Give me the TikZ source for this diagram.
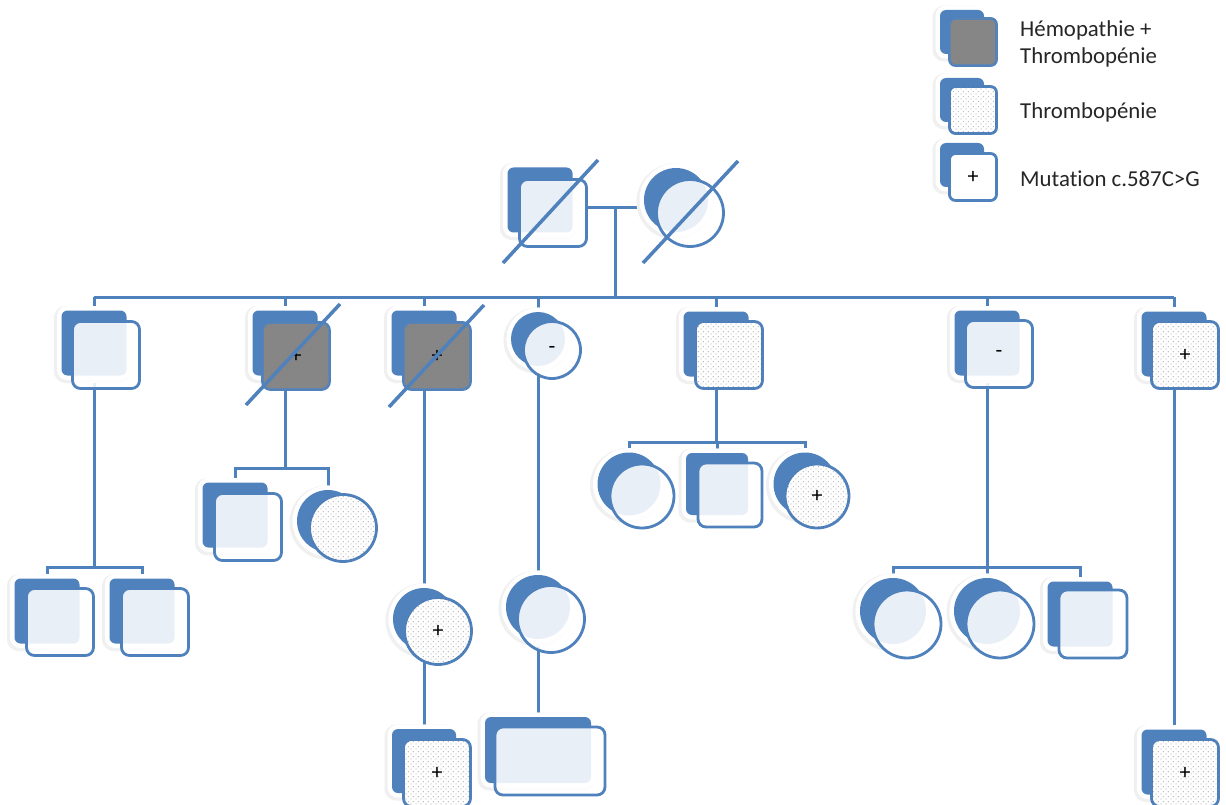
\documentclass[tikz,border=0pt]{standalone}
\usepackage{fontspec}
\setmainfont{Carlito}[Ligatures=NoCommon]
\usetikzlibrary{patterns,patterns.meta}
\definecolor{pblue}{HTML}{4F81BD}
\definecolor{hemo}{HTML}{858585}
\tikzdeclarepattern{name=finedots,type=uncolored,bounding box={(0pt,0pt) and (5pt,5pt)},tile size={(5pt,5pt)},code={\fill (1.25pt,1.25pt) circle (0.5pt); \fill (3.75pt,3.75pt) circle (0.5pt);}}
\tikzdeclarepattern{name=checker,type=uncolored,bounding box={(0pt,0pt) and (2pt,2pt)},tile size={(2pt,2pt)},code={\fill (0pt,0pt) rectangle (1pt,1pt); \fill (1pt,1pt) rectangle (2pt,2pt);}}
\pgfdeclarelayer{bg}
\pgfsetlayers{bg,main}
\tikzset{
  conn/.style={draw=pblue, line width=3pt},
  slash/.style={draw=pblue, line width=3.5pt},
  bk/.style={fill=pblue, inner sep=0pt, outer sep=0pt,
    preaction={draw=black!6, line width=12pt, transform canvas={shift={(-1.5pt,-1.5pt)}}},
    preaction={draw=white, line width=9pt}},
  bksq/.style={bk, rectangle, rounded corners=6pt, minimum width=#1, minimum height=#1},
  bkci/.style={bk, circle, minimum size=#1},
  fr/.style={draw=pblue, line width=2.8pt, fill=white, fill opacity=0.88, text opacity=1,
    inner sep=0pt, outer sep=0pt, font=\fontsize{22}{22}\selectfont},
  frsq/.style={fr, rectangle, rounded corners=8pt, minimum width=#1, minimum height=#1},
  frci/.style={fr, circle, minimum size=#1},
  thr/.style={fill opacity=1, postaction={pattern=finedots, pattern color=black!70}},
  hem/.style={fill=hemo, fill opacity=1, postaction={pattern=checker, pattern color=black!45}},
  lgtext/.style={anchor=west, inner sep=0pt, align=left, font=\fontsize{22.8}{27.5}\selectfont, text=black!85}
}
\begin{document}
\begin{tikzpicture}[x=1pt, y=-1pt]
\useasboundingbox (0,0) rectangle (1226,805);
\begin{pgfonlayer}{bg}
\fill[white] (0,0) rectangle (1226,805);
\end{pgfonlayer}

% ---------- legend
\node[bksq=44] (L1b) at (962,32) {};
\node[frsq=47, hem, rounded corners=6pt] (L1) at (973,42) {};
\node[bksq=44] (L2b) at (962,100) {};
\node[frsq=47, thr, rounded corners=6pt] (L2) at (973,110) {};
\node[bksq=44] (L3b) at (962,165) {};
\node[frsq=47, fill opacity=1, rounded corners=6pt] (L3) at (973,177) {+};
\node[lgtext] (t1) at (1020,44) {Hémopathie +\\Thrombopénie};
\node[lgtext] (t2) at (1020,112) {Thrombopénie};
\node[lgtext] (t3) at (1020,179) {Mutation c.587C>G};

% ---------- generation 1
\node[bksq=65] (M1b) at (540,200) {};
\node[frsq=67] (M1) at (553,213) {};
\node[bkci=64] (W1b) at (676,200) {};
\node[frci=67] (W1) at (690,213) {};
\coordinate (mar) at (615,208);
\coordinate (sib) at (615,297);

% ---------- generation 2
\node[bksq=65] (Ab) at (94,343) {};
\node[frsq=67] (A) at (106,355) {};
\node[bksq=65] (Bb) at (285,343) {};
\node[frsq=67, hem] (B) at (296,356) {+};
\node[bksq=65] (Cb) at (424,343) {};
\node[frsq=67, hem] (C) at (437,356) {+};
\node[bkci=54] (Db) at (538,339) {};
\node[frci=57] (D) at (552,350) {-};
\node[bksq=65] (Eb) at (716,344) {};
\node[frsq=67, thr] (E) at (729,355) {};
\node[bksq=65] (Fb) at (987,343) {};
\node[frsq=67] (F) at (999,354) {-};
\node[bksq=65] (Gb) at (1174,344) {};
\node[frsq=67, thr] (G) at (1185,355) {+};

% ---------- generation 3
\node[bksq=65] (A1b) at (47,611) {};
\node[frsq=67] (A1) at (60,622) {};
\node[bksq=65] (A2b) at (142,611) {};
\node[frsq=67] (A2) at (155,622) {};

\node[bksq=65] (B1b) at (235,515) {};
\node[frsq=67] (B1) at (248,527) {};
\node[bkci=62] (B2b) at (328,521) {};
\node[frci=67, thr] (B2) at (343,528) {};

\node[bkci=62] (C1b) at (424,619) {};
\node[frci=67, thr] (C1) at (438,631) {+};
\node[bksq=64] (C2b) at (424,761) {};
\node[frsq=67, thr] (C2) at (437,773) {+};

\node[bkci=64] (D1b) at (538,607) {};
\node[frci=67] (D1) at (551,619) {};
\node[bk, rectangle, rounded corners=6pt, minimum width=106, minimum height=66] (D2b) at (538,750) {};
\node[fr, rectangle, rounded corners=8pt, minimum width=110, minimum height=68] (D2) at (550,761) {};

\node[bkci=63] (E1b) at (629,484) {};
\node[frci=64] (E1) at (642,496) {};
\node[bksq=62] (E2b) at (717,484) {};
\node[frsq=64] (E2) at (730,495) {};
\node[bkci=63] (E3b) at (805,484) {};
\node[frci=64, thr] (E3) at (817,496) {+};

\node[bkci=66] (F1b) at (893,611) {};
\node[frci=68] (F1) at (907,624) {};
\node[bkci=66] (F2b) at (987,611) {};
\node[frci=68] (F2) at (1000,624) {};
\node[bksq=65] (F3b) at (1080,614) {};
\node[frsq=68] (F3) at (1093,624) {};

\node[bksq=65] (G1b) at (1174,762) {};
\node[frsq=67, thr] (G1) at (1185,773) {+};

\coordinate (jA) at (93,567);
\coordinate (jB) at (285,468);
\coordinate (jE) at (716,442);
\coordinate (jF) at (987,567);

% ---------- connectors (behind the symbols)
\begin{pgfonlayer}{bg}
\draw[conn] (M1.east |- mar) -- (W1b.west |- mar);
\draw[conn] (mar) -- (sib);
\draw[conn] (Ab.north |- sib) -- (Gb.north |- sib);
\foreach \n in {Ab,Bb,Cb,Db,Eb,Fb,Gb} { \draw[conn] (\n.north |- sib) -- (\n.north); }
\draw[conn] (Ab.south) -- (Ab.south |- jA);
\draw[conn] (A1b.north) |- (jA) -| (A2b.north);
\draw[conn] (Bb.south) -- (Bb.south |- jB);
\draw[conn] (B1b.north) |- (jB) -| (B2b.north);
\draw[conn] (Cb.south) -- (C1b.north);
\draw[conn] (C1b.south) -- (C2b.north);
\draw[conn] (Db.south) -- (D1b.north);
\draw[conn] (D1b.south) -- (D2b.north);
\draw[conn] (Eb.south) -- (Eb.south |- jE);
\draw[conn] (E1b.north) |- (jE) -| (E3b.north);
\draw[conn] (E2b.north) -- (E2b.north |- jE);
\draw[conn] (Fb.south) -- (Fb.south |- jF);
\draw[conn] (F1b.north) |- (jF) -| (F3b.north);
\draw[conn] (F2b.north) -- (F2b.north |- jF);
\draw[conn] (Gb.south) -- (G1b.north);
\end{pgfonlayer}

% ---------- deceased slashes
\draw[slash] (503,263) -- (598,160);
\draw[slash] (643,263) -- (738,161);
\draw[slash] (246,405) -- (340,304);
\draw[slash] (389,407) -- (484,305);
\end{tikzpicture}
\end{document}
